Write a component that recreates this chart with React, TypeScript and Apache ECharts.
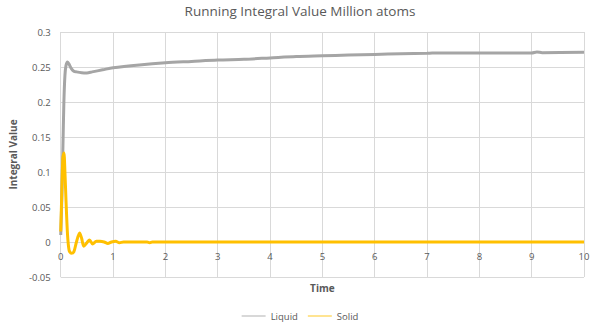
import React, { useEffect, useRef } from "react";
import * as echarts from "echarts";

const titleText = "Running Integral Value Million atoms";
const xTicks = [0, 1, 2, 3, 4, 5, 6, 7, 8, 9, 10];
const yTicks = [-0.05, 0, 0.05, 0.1, 0.15, 0.2, 0.25, 0.3];

const liquidTime = [0, 0.02, 0.04, 0.06, 0.08, 0.1, 0.13, 0.16, 0.2, 0.25, 0.3, 0.4, 0.5, 0.6, 0.8, 1.0, 1.5, 2, 2.5, 3, 3.5, 4, 4.5, 5, 5.5, 6, 6.5, 7, 7.1, 8, 9, 9.1, 9.2, 10];
const liquidValues = [0.01, 0.06, 0.13, 0.2, 0.238, 0.252, 0.257, 0.254, 0.248, 0.244, 0.243, 0.2418, 0.2415, 0.243, 0.246, 0.249, 0.253, 0.256, 0.258, 0.26, 0.261, 0.263, 0.265, 0.266, 0.267, 0.268, 0.269, 0.2695, 0.27, 0.27, 0.27, 0.2715, 0.2705, 0.271];

const solidTime = [0, 0.02, 0.04, 0.06, 0.08, 0.1, 0.13, 0.16, 0.2, 0.25, 0.3, 0.36, 0.4, 0.44, 0.5, 0.55, 0.61, 0.68, 0.75, 0.83, 0.9, 0.97, 1.05, 1.12, 1.2, 1.65, 1.7, 1.75, 2, 10];
const solidValues = [0.015, 0.07, 0.12, 0.127, 0.1, 0.06, 0.01, -0.012, -0.016, -0.014, 0.0, 0.013, 0.005, -0.006, -0.001, 0.003, -0.003, 0.001, 0.001, 0.0, -0.002, 0.0, 0.001, -0.001, 0.0, 0.0, -0.001, 0.0, 0.0, 0.0];

const font = "'Open Sans', 'Liberation Sans', sans-serif";

export default function App() {
  const ref = useRef<HTMLDivElement>(null);
  useEffect(() => {
    if (!ref.current) return;
    const chart = echarts.init(ref.current, null, { renderer: "svg" });
    const liquidData = liquidTime.map((t, i) => [t, liquidValues[i]]);
    const solidData = solidTime.map((t, i) => [t, solidValues[i]]);
    chart.setOption({
      animation: false,
      backgroundColor: "#ffffff",
      title: {
        text: titleText,
        left: "center",
        top: 4,
        padding: 0,
        textStyle: { fontFamily: font, fontSize: 13.5, fontWeight: "normal", color: "#595959" },
      },
      grid: { left: 57, right: 16, top: 32, bottom: 47 },
      xAxis: {
        type: "value",
        min: xTicks[0],
        max: xTicks[xTicks.length - 1],
        interval: 1,
        name: "Time",
        nameLocation: "middle",
        nameGap: 6,
        nameTextStyle: { fontFamily: font, fontSize: 10, fontWeight: "bold", color: "#595959" },
        axisLine: { onZero: false, show: false },
        axisTick: { show: false },
        axisLabel: { fontFamily: font, fontSize: 9.5, color: "#595959", margin: -26 },
        splitLine: { show: true, lineStyle: { color: "#d9d9d9" } },
      },
      yAxis: {
        type: "value",
        min: yTicks[0],
        max: yTicks[yTicks.length - 1],
        interval: 0.05,
        name: "Integral Value",
        nameLocation: "middle",
        nameGap: 31,
        nameTextStyle: { fontFamily: font, fontSize: 10, fontWeight: "bold", color: "#595959" },
        axisLine: { show: false },
        axisTick: { show: false },
        axisLabel: {
          fontFamily: font,
          fontSize: 9.5,
          color: "#595959",
          margin: 10,
          formatter: (v: number) => String(parseFloat(v.toFixed(2))),
        },
        splitLine: { show: true, lineStyle: { color: "#d9d9d9" } },
      },
      legend: {
        bottom: 3,
        padding: 0,
        left: "center",
        itemWidth: 24,
        itemHeight: 6,
        itemGap: 10,
        textStyle: { fontFamily: font, fontSize: 9.5, color: "#595959" },
        data: [
          { name: "Liquid", icon: "path://M0,4 L28,4 L28,5 L0,5 Z" },
          { name: "Solid", icon: "path://M0,4 L28,4 L28,5 L0,5 Z" },
        ],
      },
      series: [
        {
          name: "Liquid",
          type: "line",
          data: liquidData,
          showSymbol: false,
          smooth: 0.3,
          lineStyle: { color: "#A5A5A5", width: 3 },
          itemStyle: { color: "#A5A5A5" },
        },
        {
          name: "Solid",
          type: "line",
          data: solidData,
          showSymbol: false,
          smooth: 0.3,
          lineStyle: { color: "#FFC000", width: 3 },
          itemStyle: { color: "#FFC000" },
        },
      ],
    });
    return () => chart.dispose();
  }, []);
  return (
    <div
      ref={ref}
      style={{ position: "absolute", left: 0, top: 0, width: 600, height: 324 }}
    />
  );
}
